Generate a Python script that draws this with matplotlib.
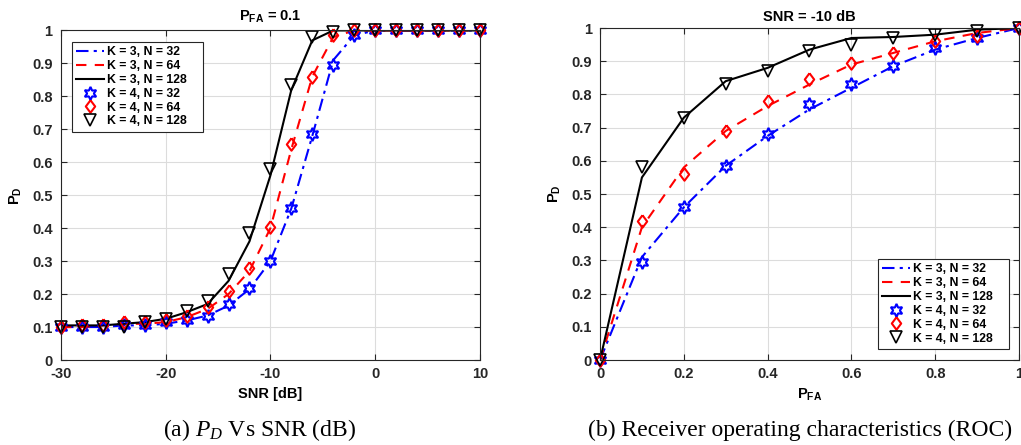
import numpy as np
import matplotlib
matplotlib.use("Agg")
import matplotlib.pyplot as plt
from matplotlib.ticker import FormatStrFormatter

plt.rcParams['font.family'] = ['Liberation Sans', 'DejaVu Sans']
plt.rcParams['font.weight'] = 'bold'
plt.rcParams['mathtext.fontset'] = 'custom'
plt.rcParams['mathtext.bf'] = 'Liberation Sans:weight=bold'
plt.rcParams['mathtext.it'] = 'Liberation Serif:style=italic:weight=normal'
plt.rcParams['mathtext.rm'] = 'Liberation Serif:weight=normal'

# ---- data: (a) PD vs SNR, PFA = 0.1
snr = np.arange(-30, 11, 2)
pd_k3_n32 = [0.10, 0.10, 0.10, 0.105, 0.105, 0.11, 0.12, 0.135, 0.165, 0.215, 0.30, 0.46, 0.68, 0.91, 0.985, 1, 1, 1, 1, 1, 1]
pd_k3_n64 = [0.10, 0.10, 0.105, 0.11, 0.11, 0.115, 0.13, 0.155, 0.20, 0.27, 0.40, 0.64, 0.86, 0.98, 1, 1, 1, 1, 1, 1, 1]
pd_k3_n128 = [0.105, 0.105, 0.105, 0.11, 0.115, 0.125, 0.145, 0.17, 0.24, 0.36, 0.56, 0.82, 0.97, 1, 1, 1, 1, 1, 1, 1, 1]
pd_k4_n32 = [0.10, 0.10, 0.10, 0.105, 0.105, 0.115, 0.12, 0.135, 0.17, 0.22, 0.30, 0.46, 0.685, 0.895, 0.985, 1, 1, 1, 1, 1, 1]
pd_k4_n64 = [0.10, 0.105, 0.105, 0.115, 0.115, 0.12, 0.135, 0.16, 0.21, 0.28, 0.405, 0.655, 0.86, 0.985, 1, 1, 1, 1, 1, 1, 1]
pd_k4_n128 = [0.10, 0.10, 0.10, 0.10, 0.115, 0.125, 0.15, 0.18, 0.26, 0.385, 0.58, 0.835, 0.98, 0.995, 1, 1, 1, 1, 1, 1, 1]

# ---- data: (b) ROC, SNR = -10 dB
pfa = np.round(np.arange(0, 1.01, 0.1), 1)
roc_k3_n32 = [0, 0.31, 0.46, 0.585, 0.675, 0.755, 0.82, 0.885, 0.935, 0.97, 1]
roc_k3_n64 = [0, 0.40, 0.58, 0.69, 0.765, 0.83, 0.89, 0.925, 0.96, 0.985, 1]
roc_k3_n128 = [0, 0.55, 0.73, 0.84, 0.88, 0.935, 0.97, 0.973, 0.98, 0.995, 1]
roc_k4_n32 = [0, 0.295, 0.46, 0.585, 0.68, 0.77, 0.83, 0.885, 0.94, 0.97, 1]
roc_k4_n64 = [0, 0.42, 0.56, 0.69, 0.78, 0.845, 0.895, 0.925, 0.96, 0.975, 1]
roc_k4_n128 = [0, 0.58, 0.73, 0.83, 0.87, 0.93, 0.95, 0.97, 0.98, 0.99, 1]

labels = ['K = 3, N = 32', 'K = 3, N = 64', 'K = 3, N = 128',
          'K = 4, N = 32', 'K = 4, N = 64', 'K = 4, N = 128']

fig = plt.figure(figsize=(10.21, 4.45), dpi=100)
ax1 = fig.add_axes([0.0597, 0.191, 0.4103, 0.7405])
ax2 = fig.add_axes([0.5877, 0.191, 0.4103, 0.746])

txt = '#262626'
hexagram = (6, 1, 0)
diamond = [(0, 1), (0.75, 0), (0, -1), (-0.75, 0), (0, 1)]


def draw(ax, x, lines, marks):
    lw = 1.5
    ax.plot(x, lines[0], color='blue', lw=lw, dashes=(6, 2.5, 1.5, 2.5))
    ax.plot(x, lines[1], color='red', lw=lw, dashes=(5, 4))
    ax.plot(x, lines[2], color='black', lw=lw)
    ax.plot(x, marks[0], ls='none', marker=hexagram, ms=9.5, mfc='none', mec='blue', mew=1.5, clip_on=False)
    ax.plot(x, marks[1], ls='none', marker=diamond, ms=9, mfc='none', mec='red', mew=1.5, clip_on=False)
    ax.plot(x, marks[2], ls='none', marker='v', ms=9, mfc='none', mec='black', mew=1.2, clip_on=False)
    ax.set_ylim(0, 1)
    ax.set_yticks(np.arange(0, 1.01, 0.1))
    ax.yaxis.set_major_formatter(FormatStrFormatter('%g'))
    ax.xaxis.set_major_formatter(FormatStrFormatter('%g'))
    ax.grid(True, color='#dcdcdc', lw=0.8)
    ax.set_axisbelow(True)
    ax.tick_params(direction='in', top=True, right=True, labelsize=10.5,
                   colors=txt, length=4)
    ax.tick_params(axis='y', pad=6)
    ax.tick_params(axis='x', pad=5)
    for s in ax.spines.values():
        s.set_color(txt)
        s.set_linewidth(0.8)


def add_legend(ax, anchor):
    leg = ax.legend(labels, loc='upper left', bbox_to_anchor=anchor, mode='expand',
                    borderaxespad=0, fontsize=8.8, handlelength=2.3, borderpad=0.35,
                    labelspacing=0.15, handletextpad=0.25, fancybox=False,
                    edgecolor=txt, framealpha=1)
    leg.get_frame().set_linewidth(0.8)
    return leg


draw(ax1, snr, [pd_k3_n32, pd_k3_n64, pd_k3_n128], [pd_k4_n32, pd_k4_n64, pd_k4_n128])
ax1.set_xlim(-30, 10)
ax1.set_xticks([-30, -20, -10, 0, 10])
ax1.set_title(r'$\mathbf{P_{FA}}$ = 0.1', fontsize=10.5, fontweight='bold', pad=7)
ax1.set_xlabel('SNR [dB]', fontsize=10.5, fontweight='bold', labelpad=4)
ax1.set_ylabel(r'$\mathbf{P_D}$', fontsize=10.5, labelpad=6)
add_legend(ax1, (0.026, 0.965, 0.313, 0.0))

draw(ax2, pfa, [roc_k3_n32, roc_k3_n64, roc_k3_n128], [roc_k4_n32, roc_k4_n64, roc_k4_n128])
ax2.set_xlim(0, 1)
ax2.set_xticks(np.arange(0, 1.01, 0.2))
ax2.set_title('SNR = -10 dB', fontsize=10.5, fontweight='bold', pad=5)
ax2.set_xlabel(r'$\mathbf{P_{FA}}$', fontsize=10.5, labelpad=4)
ax2.set_ylabel(r'$\mathbf{P_D}$', fontsize=10.5, labelpad=6)
add_legend(ax2, (0.663, 0.304, 0.313, 0.0))

fig.text(0.2546, 0.02, r'(a) $P_D$ Vs SNR (dB)', family='Liberation Serif',
         fontweight='normal', fontsize=17, ha='center')
fig.text(0.7835, 0.02, '(b) Receiver operating characteristics (ROC)', family='Liberation Serif',
         fontweight='normal', fontsize=17, ha='center')

fig.savefig('out.png', dpi=100)
